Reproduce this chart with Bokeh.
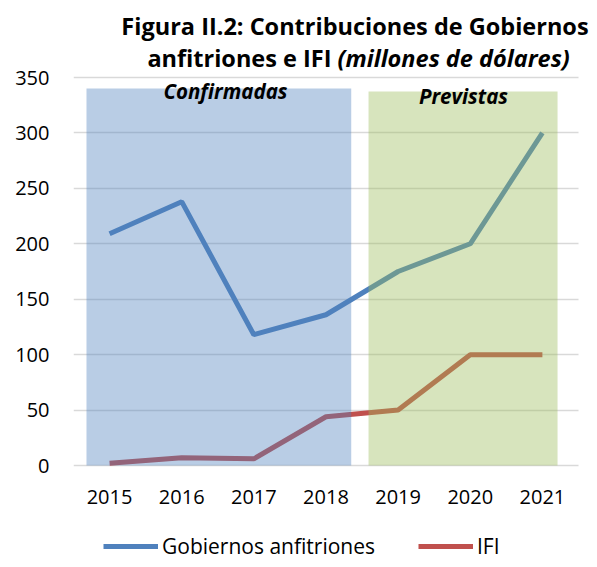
from bokeh.plotting import figure
from bokeh.models import Range1d, FixedTicker, Label, Legend, LegendItem
from bokeh.embed import file_html
from bokeh.resources import INLINE

years = [2015, 2016, 2017, 2018, 2019, 2020, 2021]
gobiernos = [209, 238, 118, 136, 175, 200, 300]
ifi = [2, 7, 6, 44, 50, 100, 100]
y_ticks = [0, 50, 100, 150, 200, 250, 300, 350]

BLUE = "#4F81BD"
RED = "#C0504D"
GREEN = "#9BBB59"
FONT = "Open Sans"

# frame: x 73..589 px, y 0..559 px (value 0 at 465 px, 350 at 77 px)
p = figure(width=589, height=559, output_backend="svg", toolbar_location=None,
           x_range=Range1d(2014.5, 2021.653), y_range=Range1d(-84.79, 419.46),
           min_border_left=73, min_border_right=0, min_border_top=0,
           min_border_bottom=0)
p.outline_line_color = None
p.background_fill_color = "white"

p.xaxis.ticker = FixedTicker(ticks=years)
p.yaxis.ticker = FixedTicker(ticks=y_ticks)
p.xaxis.fixed_location = 0
for ax in (p.xaxis, p.yaxis):
    ax.axis_line_color = None
    ax.major_tick_line_color = None
    ax.minor_tick_line_color = None
    ax.major_label_text_font = FONT
    ax.major_label_text_font_size = "20px"
    ax.major_label_text_color = "#000000"
p.xaxis.major_label_standoff = 18
p.yaxis.major_label_standoff = 18
p.xgrid.grid_line_color = None
p.ygrid.grid_line_color = "#D9D9D9"
p.ygrid.grid_line_width = 1.5
if "cross_bounds" in p.ygrid[0].properties():
    p.ygrid.cross_bounds = (2014.5, 2021.5)

r1 = p.line(years, gobiernos, line_color=BLUE, line_width=5)
r2 = p.line(years, ifi, line_color=RED, line_width=5)

p.quad(left=[2014.68], right=[2018.35], bottom=[0], top=[340],
       fill_color=BLUE, fill_alpha=0.4, line_color=None)
p.quad(left=[2018.59], right=[2021.21], bottom=[0], top=[337.4],
       fill_color=GREEN, fill_alpha=0.4, line_color=None)

p.add_layout(Label(x=2016.607, y=337.5, text="Confirmadas", text_font=FONT,
                   text_font_style="bold italic", text_font_size="20.5px",
                   text_color="#000000",
                   text_align="center", text_baseline="middle"))
p.add_layout(Label(x=2019.906, y=333.0, text="Previstas", text_font=FONT,
                   text_font_style="bold italic", text_font_size="20.5px",
                   text_color="#000000",
                   text_align="center", text_baseline="middle"))

p.add_layout(Label(x=2018.402, y=396.9, text="Figura II.2: Contribuciones de Gobiernos",
                   text_font=FONT, text_font_style="bold", text_font_size="23.5px",
                   text_color="#000000",
                   text_align="center", text_baseline="middle"))
p.add_layout(Label(x=2018.076, y=368.0, text="anfitriones e IFI",
                   text_font=FONT, text_font_style="bold", text_font_size="23.5px",
                   text_color="#000000",
                   text_align="right", text_baseline="middle"))
p.add_layout(Label(x=2018.159, y=368.0, text="(millones de dólares)",
                   text_font=FONT, text_font_style="bold italic", text_font_size="23.5px",
                   text_color="#000000",
                   text_align="left", text_baseline="middle"))

legend = Legend(items=[LegendItem(label="Gobiernos anfitriones", renderers=[r1]),
                       LegendItem(label="IFI", renderers=[r2])],
                orientation="horizontal", location=(30, -1),
                glyph_width=55, glyph_height=20, label_standoff=4, spacing=43,
                label_height=20,
                padding=0, margin=0, border_line_color=None,
                background_fill_alpha=0,
                label_text_font=FONT, label_text_font_size="21px",
                label_text_color="#000000")
p.add_layout(legend, "center")

open("out.html", "w").write(file_html(p, INLINE))
